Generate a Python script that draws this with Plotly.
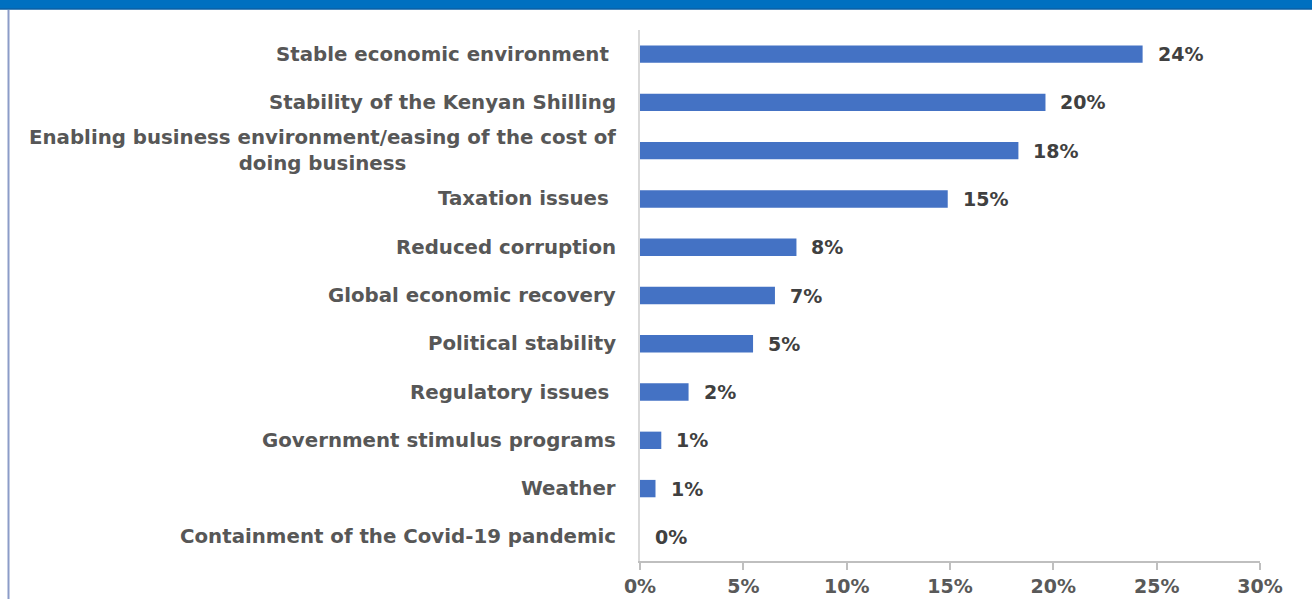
import plotly.graph_objects as go

# Survey responses: factors expected to support business (% of respondents)
categories = [
    "Stable economic environment\u00a0",
    "Stability of the Kenyan Shilling",
    "Enabling business environment/easing of the cost of<br>doing business",
    "Taxation issues\u00a0",
    "Reduced corruption",
    "Global economic recovery",
    "Political stability",
    "Regulatory issues\u00a0",
    "Government stimulus programs",
    "Weather",
    "Containment of the Covid-19 pandemic",
]
shares = [24.32, 19.62, 18.31, 14.89, 7.57, 6.53, 5.47, 2.35, 1.03, 0.75, 0.0]
x_ticks = [0, 5, 10, 15, 20, 25, 30]
x_tick_labels = ["0%", "5%", "10%", "15%", "20%", "25%", "30%"]

W, H = 1312, 599
M_L, M_R, M_T, M_B = 640, 52, 30, 38
PW, PH = W - M_L - M_R, H - M_T - M_B


def px_x(px):
    return (px - M_L) / PW


def px_y(py):
    return (H - M_B - py) / PH


fig = go.Figure()
fig.add_trace(go.Bar(
    x=shares,
    y=categories,
    orientation="h",
    width=0.36,
    marker=dict(color="#4472C4", line=dict(width=0)),
    hoverinfo="skip",
))

annotations = []
for cat in categories:
    annotations.append(dict(
        x=0, xref="paper", y=cat, yref="y",
        text=cat, showarrow=False,
        xanchor="right", yanchor="middle", align="center", xshift=-22,
        font=dict(family="DejaVu Sans", size=19.8, color="#575757", weight="bold"),
    ))
for cat, v in zip(categories, shares):
    annotations.append(dict(
        x=v, xref="x", y=cat, yref="y",
        text=f"{v:.0f}%", showarrow=False,
        xanchor="left", yanchor="middle", xshift=13,
        font=dict(family="DejaVu Sans", size=19, color="#404040", weight="bold"),
    ))

shapes = [
    # blue band across the top
    dict(type="rect", xref="paper", yref="paper",
         x0=px_x(0), x1=px_x(W), y0=px_y(9), y1=px_y(-2),
         fillcolor="#0070C0", line=dict(width=0), layer="above"),
    dict(type="line", xref="paper", yref="paper",
         x0=px_x(0), x1=px_x(W), y0=px_y(9), y1=px_y(9),
         line=dict(color="#0B5FA5", width=1.5)),
    # left frame line
    dict(type="line", xref="paper", yref="paper",
         x0=px_x(8.5), x1=px_x(8.5), y0=px_y(10), y1=px_y(H + 2),
         line=dict(color="#8C9CC8", width=2)),
]

fig.update_layout(
    width=W, height=H, autosize=False,
    margin=dict(l=M_L, r=M_R, t=M_T, b=M_B, pad=0),
    paper_bgcolor="white", plot_bgcolor="white",
    showlegend=False,
    annotations=annotations,
    shapes=shapes,
    xaxis=dict(
        range=[0, 30], tickvals=x_ticks, ticktext=x_tick_labels,
        automargin=False,
        showgrid=False, zeroline=False,
        showline=True, linecolor="#BFBFBF", linewidth=1.5,
        ticks="outside", ticklen=7, tickcolor="#BFBFBF", tickwidth=1.5,
        tickfont=dict(family="DejaVu Sans", size=19, color="#595959", weight="bold"),
        fixedrange=True,
    ),
    yaxis=dict(
        categoryorder="array", categoryarray=categories,
        autorange="reversed", automargin=False,
        showticklabels=False, showgrid=False, zeroline=False,
        showline=True, linecolor="#D9D9D9", linewidth=1.5,
        ticks="", fixedrange=True,
    ),
)

fig.write_html("out.html", config={"displayModeBar": False})
